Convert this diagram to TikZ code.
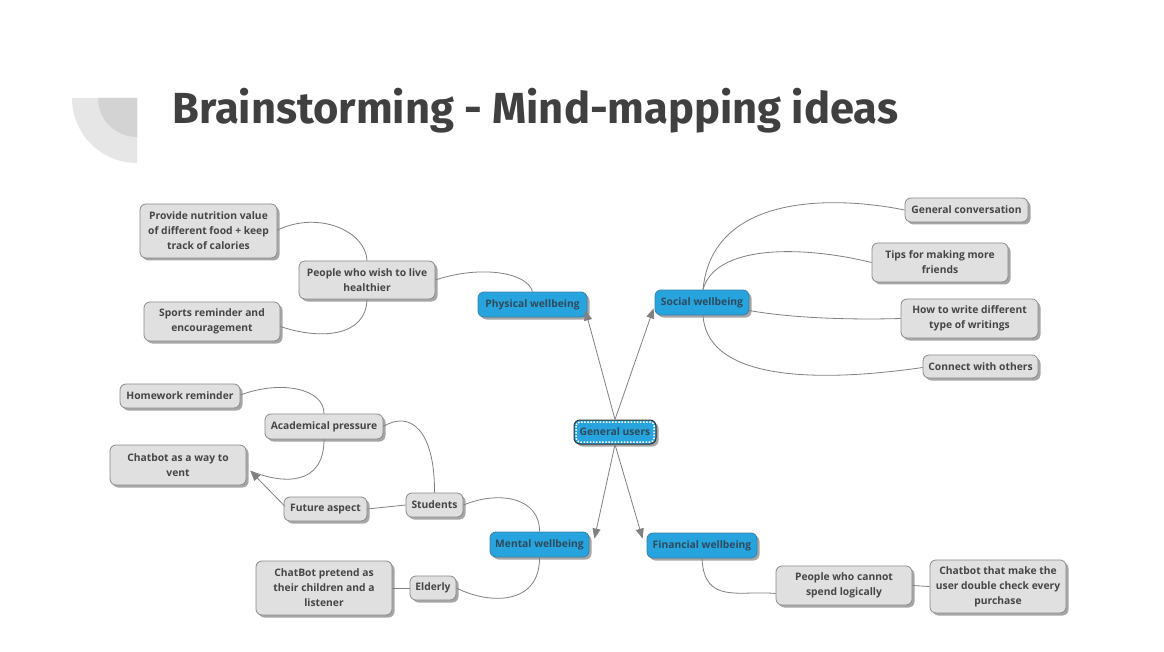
\documentclass[tikz,border=0pt]{standalone}
\usepackage{fontspec}
\setmainfont{Open Sans}
\newfontfamily\titlefont{Fira Sans}
\usetikzlibrary{arrows.meta,shadows}
\definecolor{txt}{HTML}{454545}
\definecolor{leaffill}{HTML}{E0E0E0}
\definecolor{leafdraw}{HTML}{8A8A8A}
\definecolor{bluefill}{HTML}{27A4DD}
\definecolor{bluedraw}{HTML}{3D7EA6}
\definecolor{bluetxt}{HTML}{2E4A5C}
\definecolor{edgecol}{HTML}{808080}
\definecolor{titlecol}{HTML}{404040}
\definecolor{decoA}{HTML}{E6E6E6}
\definecolor{decoB}{HTML}{D3D3D3}
\tikzset{
  base/.style={rounded corners=6pt, inner sep=0pt, align=center, line width=0.8pt,
    font=\fontsize{10.3}{15}\selectfont\bfseries,
    drop shadow={shadow xshift=2.5pt, shadow yshift=-2.5pt, fill=black, opacity=0.35}},
  leaf/.style={base, fill=leaffill, draw=leafdraw, text=txt},
  mainnode/.style={base, fill=bluefill, draw=bluedraw, text=bluetxt},
  centernode/.style={base, fill=bluefill, draw=black!80, text=bluetxt, line width=1pt},
  link/.style={draw=edgecol, line width=0.8pt},
  arr/.style={link, -{Triangle[length=10pt,width=8pt]}, color=edgecol}
}
\begin{document}
\begin{tikzpicture}[x=1pt,y=-1pt]
\fill[white] (0,0) rectangle (1164,652);
\useasboundingbox (0,0) rectangle (1164,652);
% decoration
\fill[decoA] (137,98) -- (72,98) arc[start angle=180, end angle=90, radius=65] -- cycle;
\fill[decoB] (137,98) -- (98,98) arc[start angle=180, end angle=90, radius=39] -- cycle;
% title
\node[anchor=base west, inner sep=0pt, text=titlecol, font=\titlefont\fontsize{43.5}{50}\selectfont\bfseries] (title) at (172,124) {Brainstorming - Mind-mapping ideas};

% nodes
\node[leaf, minimum width=137pt, minimum height=54pt] (pn) at (208.5,231) {Provide nutrition value\\of different food + keep\\track of calories};
\node[leaf, minimum width=136pt, minimum height=38pt] (ph) at (367,280) {People who wish to live\\healthier};
\node[leaf, minimum width=136pt, minimum height=39pt] (sr) at (212,321.5) {Sports reminder and\\encouragement};
\node[mainnode, minimum width=109pt, minimum height=25pt] (pw) at (532.5,304.5) {Physical wellbeing};
\node[mainnode, minimum width=94pt, minimum height=25pt] (sw) at (702,302.5) {Social wellbeing};
\node[leaf, minimum width=123pt, minimum height=24pt] (gc) at (966.5,210) {General conversation};
\node[leaf, minimum width=136pt, minimum height=39pt] (tf) at (940,262.5) {Tips for making more\\friends};
\node[leaf, minimum width=137pt, minimum height=39pt] (hw) at (969.5,318.5) {How to write different\\type of writings};
\node[leaf, minimum width=115pt, minimum height=23pt] (co) at (980.5,366.5) {Connect with others};
\node[leaf, minimum width=120pt, minimum height=24pt] (hr) at (180,396) {Homework reminder};
\node[leaf, minimum width=118pt, minimum height=25pt] (ap) at (324,426.5) {Academical pressure};
\node[leaf, minimum width=136pt, minimum height=40pt] (cv) at (178,465) {Chatbot as a way to\\vent};
\node[leaf, minimum width=83pt, minimum height=24pt] (fa) at (325.5,509) {Future aspect};
\node[leaf, minimum width=57pt, minimum height=24pt] (st) at (434.5,505) {Students};
\node[centernode, minimum width=82pt, minimum height=24pt] (gu) at (615,432) {General users};
\draw[white, line width=1.5pt, dash pattern=on 1.5pt off 1.6pt, rounded corners=4pt]
  ([shift={(2.5,2.5)}]gu.north west) rectangle ([shift={(-2.5,-2.5)}]gu.south east);
\node[mainnode, minimum width=99pt, minimum height=25pt] (mw) at (539.5,544.5) {Mental wellbeing};
\node[mainnode, minimum width=110pt, minimum height=25pt] (fw) at (702,545.5) {Financial wellbeing};
\node[leaf, minimum width=136pt, minimum height=54pt] (cp) at (324,588) {ChatBot pretend as\\their children and a\\listener};
\node[leaf, minimum width=46pt, minimum height=24pt] (el) at (433,588) {Elderly};
\node[leaf, minimum width=136pt, minimum height=39pt] (pc) at (844,585.5) {People who cannot\\spend logically};
\node[leaf, minimum width=136pt, minimum height=53pt] (cm) at (998,586.5) {Chatbot that make the\\user double check every\\purchase};

% connectors from the center
\draw[arr] (gu.north) -- ([shift={(-2,-7)}]pw.south east);
\draw[arr] (gu.north) -- ([shift={(-1,-7)}]sw.south west);
\draw[arr] (gu.south) -- ([shift={(5,7)}]mw.north east);
\draw[arr] (gu.south) -- ([shift={(-4,6)}]fw.north west);

% physical branch
\draw[link] (pw.north) .. controls (527,272) and (480,265) .. (ph.east);
\draw[link] (ph.north) .. controls (366,232) and (320,210) .. ([yshift=1]pn.east);
\draw[link] (ph.south) .. controls (366,337) and (320,340) .. ([yshift=-5]sr.east);

% social branch
\draw[link] ([xshift=1]sw.north) .. controls (712,195) and (830,195) .. (gc.west);
\draw[link] ([xshift=1]sw.north) .. controls (715,245) and (800,245) .. (tf.west);
\draw[link] ([yshift=-8]sw.east) .. controls (790,318) and (850,320) .. (hw.west);
\draw[link] ([xshift=1]sw.south) .. controls (708,390) and (850,378) .. ([yshift=-1]co.west);

% mental branch
\draw[link] (mw.north) .. controls (540,498) and (500,490) .. (st.east);
\draw[link] (mw.south) .. controls (540,605) and (490,605) .. (el.east);
\draw[link] (el.west) -- (cp.east);
\draw[link] (st.north) .. controls (435,430) and (410,410) .. (ap.east);
\draw[link] (st.west) -- (fa.east);
\draw[link] (ap.north) .. controls (324,388) and (280,380) .. ([yshift=1]hr.east);
\draw[link] (ap.south) .. controls (324,485) and (285,485) .. ([shift={(4,6)}]cv.east);
\draw[arr] ([shift={(1,-3)}]fa.west) -- ([shift={(4,6)}]cv.east);

% financial branch
\draw[link] (fw.south) .. controls (704,605) and (740,590) .. ([yshift=-8]pc.west);
\draw[link] (pc.east) -- (cm.west);
\end{tikzpicture}
\end{document}
